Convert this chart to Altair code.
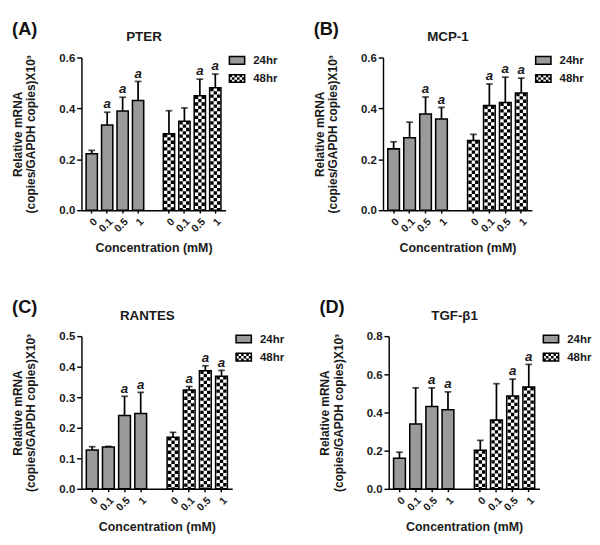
import altair as alt
import pandas as pd

conc = ["0", "0.1", "0.5", "1"]
series = ["24hr", "48hr"]

# Panel A: PTER
pter_24 = [0.222, 0.335, 0.390, 0.431]
pter_24_err = [0.013, 0.050, 0.054, 0.075]
pter_24_sig = ["", "a", "a", "a"]
pter_48 = [0.300, 0.350, 0.450, 0.481]
pter_48_err = [0.091, 0.052, 0.065, 0.054]
pter_48_sig = ["", "", "a", "a"]

# Panel B: MCP-1
mcp_24 = [0.241, 0.285, 0.378, 0.358]
mcp_24_err = [0.028, 0.061, 0.067, 0.046]
mcp_24_sig = ["", "", "a", "a"]
mcp_48 = [0.274, 0.411, 0.423, 0.461]
mcp_48_err = [0.024, 0.085, 0.100, 0.058]
mcp_48_sig = ["", "a", "a", "a"]

# Panel C: RANTES
rantes_24 = [0.127, 0.137, 0.240, 0.247]
rantes_24_err = [0.011, 0.002, 0.063, 0.069]
rantes_24_sig = ["", "", "a", "a"]
rantes_48 = [0.169, 0.324, 0.387, 0.369]
rantes_48_err = [0.016, 0.011, 0.016, 0.019]
rantes_48_sig = ["", "a", "a", "a"]

# Panel D: TGF-beta1
tgf_24 = [0.160, 0.340, 0.432, 0.415]
tgf_24_err = [0.032, 0.189, 0.097, 0.093]
tgf_24_sig = ["", "", "a", "a"]
tgf_48 = [0.202, 0.360, 0.486, 0.533]
tgf_48_err = [0.052, 0.191, 0.089, 0.119]
tgf_48_sig = ["", "", "a", "a"]

FONT = "Liberation Sans"
GREY = "#9a9a9a"
H = 160

keys24 = [f"24hr|{c}" for c in conc]
keys48 = [f"48hr|{c}" for c in conc]
x_domain = keys24 + ["|"] + keys48

fill_scale = alt.Scale(domain=series, range=[GREY, "#ffffff"])


def make_df(m24, e24, s24, m48, e48, s48):
    rows = []
    for s, m, e, sg in (("24hr", m24, e24, s24), ("48hr", m48, e48, s48)):
        for c, mv, ev, sv in zip(conc, m, e, sg):
            rows.append({"key": f"{s}|{c}", "series": s, "conc": c,
                         "mean": mv, "top": mv + ev, "sig": sv})
    return pd.DataFrame(rows)


def plot(title, df, ymax, ystep, width):
    nt = int(round(ymax / ystep))
    yvals = [round(i * ystep, 3) for i in range(nt + 1)]
    xax = alt.Axis(
        labelExpr="substring(datum.label, indexof(datum.label, '|') + 1)",
        labelAngle=-45, labelFontSize=11, labelPadding=3, tickSize=3,
        tickOpacity={"condition": {"test": "datum.value === '|'", "value": 0}, "value": 1},
        title="Concentration (mM)", titleFontSize=13, titlePadding=9,
    )
    yax = alt.Axis(
        values=yvals, format=".1f", labelFontSize=12, tickSize=5, labelPadding=2,
        title=["Relative mRNA", "(copies/GAPDH copies)X10³"], titleFontSize=12.5,
        titleLineHeight=14, titlePadding=22,
    )
    yscale = alt.Scale(domain=[0, ymax], nice=False)
    xscale = alt.Scale(domain=x_domain, paddingInner=0.27, paddingOuter=0.3)
    X = alt.X("key:N", scale=xscale, axis=xax)
    base = alt.Chart(df)

    bars = base.mark_bar(strokeWidth=0).encode(
        x=X,
        y=alt.Y("mean:Q", scale=yscale, axis=yax),
        fill=alt.Fill("series:N", scale=fill_scale, legend=None),
    )
    layers = [bars]
    cell = 3.5
    for dx, off in ((-cell, 0), (0, cell), (cell, 0)):
        layers.append(
            base.transform_filter(alt.datum.series == "48hr").mark_rule(
                color="black", strokeWidth=cell, strokeDash=[cell, cell],
                strokeDashOffset=off, strokeCap="butt", xOffset=dx,
            ).encode(x=X, y=alt.Y("mean:Q", scale=yscale, axis=yax), y2=alt.datum(0))
        )
    outline = base.mark_bar(fillOpacity=0, stroke="black", strokeWidth=1.6).encode(
        x=X, y=alt.Y("mean:Q", scale=yscale, axis=yax)
    )
    err = base.mark_rule(color="black", strokeWidth=1.8).encode(
        x=X, y=alt.Y("mean:Q", scale=yscale, axis=yax), y2="top:Q"
    )
    cap = base.mark_tick(color="black", thickness=1.8, size=7, orient="horizontal").encode(
        x=X, y=alt.Y("top:Q", scale=yscale, axis=yax)
    )
    sig = base.transform_filter(alt.datum.sig != "").mark_text(
        font=FONT, fontStyle="italic", fontWeight="bold", fontSize=14,
        baseline="alphabetic", dy=-4, color="#1a1a1a",
    ).encode(x=X, y=alt.Y("top:Q", scale=yscale, axis=yax), text="sig:N")
    layers += [outline, err, cap, sig]
    return alt.layer(*layers).properties(
        width=width, height=H,
        title=alt.TitleParams(title, fontSize=14, fontWeight="bold", offset=8,
                              dx=-10, anchor="middle", font=FONT, color="#1a1a1a"),
    )


def legend(x0):
    ldf = pd.DataFrame({"series": series})
    ly = alt.Y("series:N", scale=alt.Scale(domain=series, range=[-6.5, 31.5],
                                           paddingInner=0.579, paddingOuter=0.289),
               axis=None)
    base = alt.Chart(ldf)
    x1 = x0 + 16
    sw = base.mark_rect(strokeWidth=0).encode(
        x=alt.value(x0), x2=alt.value(x1), y=ly,
        fill=alt.Fill("series:N", scale=fill_scale, legend=None),
    )
    layers = [sw]
    c = 8 / 3
    for dy, off in ((-c, 0), (0, c), (c, 0)):
        layers.append(
            base.transform_filter(alt.datum.series == "48hr").mark_rule(
                color="black", strokeWidth=c, strokeDash=[c, c], strokeDashOffset=off,
                strokeCap="butt", yOffset=dy,
            ).encode(x=alt.value(x0), x2=alt.value(x1), y=ly)
        )
    box = base.mark_rect(fillOpacity=0, stroke="black", strokeWidth=1.6).encode(
        x=alt.value(x0), x2=alt.value(x1), y=ly
    )
    txt = base.mark_text(align="left", baseline="middle", fontSize=12,
                         fontWeight="bold", font=FONT, color="#1a1a1a").encode(
        x=alt.value(x1 + 9), y=ly, text="series:N"
    )
    layers += [box, txt]
    return alt.layer(*layers).properties(
        width=40, height=38,
        title=alt.TitleParams(" ", fontSize=14, offset=-6, font=FONT),
    )


def panel(letter, title, data, ymax, ystep, width, lx):
    return alt.hconcat(
        plot(title, make_df(*data), ymax, ystep, width), legend(lx), spacing=2,
        title=alt.TitleParams(letter, anchor="start", frame="bounds", fontSize=19,
                              fontWeight="bold", offset=-8, font=FONT, color="#111111"),
    )


pA = panel("(A)", "PTER", (pter_24, pter_24_err, pter_24_sig, pter_48, pter_48_err, pter_48_sig), 0.6, 0.2, 151, 2)
pB = panel("(B)", "MCP-1", (mcp_24, mcp_24_err, mcp_24_sig, mcp_48, mcp_48_err, mcp_48_sig), 0.6, 0.2, 156, -4)
pC = panel("(C)", "RANTES", (rantes_24, rantes_24_err, rantes_24_sig, rantes_48, rantes_48_err, rantes_48_sig), 0.5, 0.1, 158, -7)
pD = panel("(D)", "TGF-β1", (tgf_24, tgf_24_err, tgf_24_sig, tgf_48, tgf_48_err, tgf_48_sig), 0.8, 0.2, 158, -6)

chart = alt.vconcat(
    alt.hconcat(pA, pB, spacing=37),
    alt.hconcat(pC, pD, spacing=36),
    spacing=46,
).properties(
    padding={"left": 4, "top": 0, "right": 0, "bottom": 0}
).configure(font=FONT).configure_axis(
    labelFont=FONT, titleFont=FONT, labelFontWeight="bold", titleFontWeight="bold",
    labelColor="#1a1a1a", titleColor="#1a1a1a", domainColor="black", tickColor="black",
    domainWidth=1.5, tickWidth=1.5, grid=False,
).configure_view(stroke=None)

chart.save("out.html", embed_options={"renderer": "svg", "actions": False})
